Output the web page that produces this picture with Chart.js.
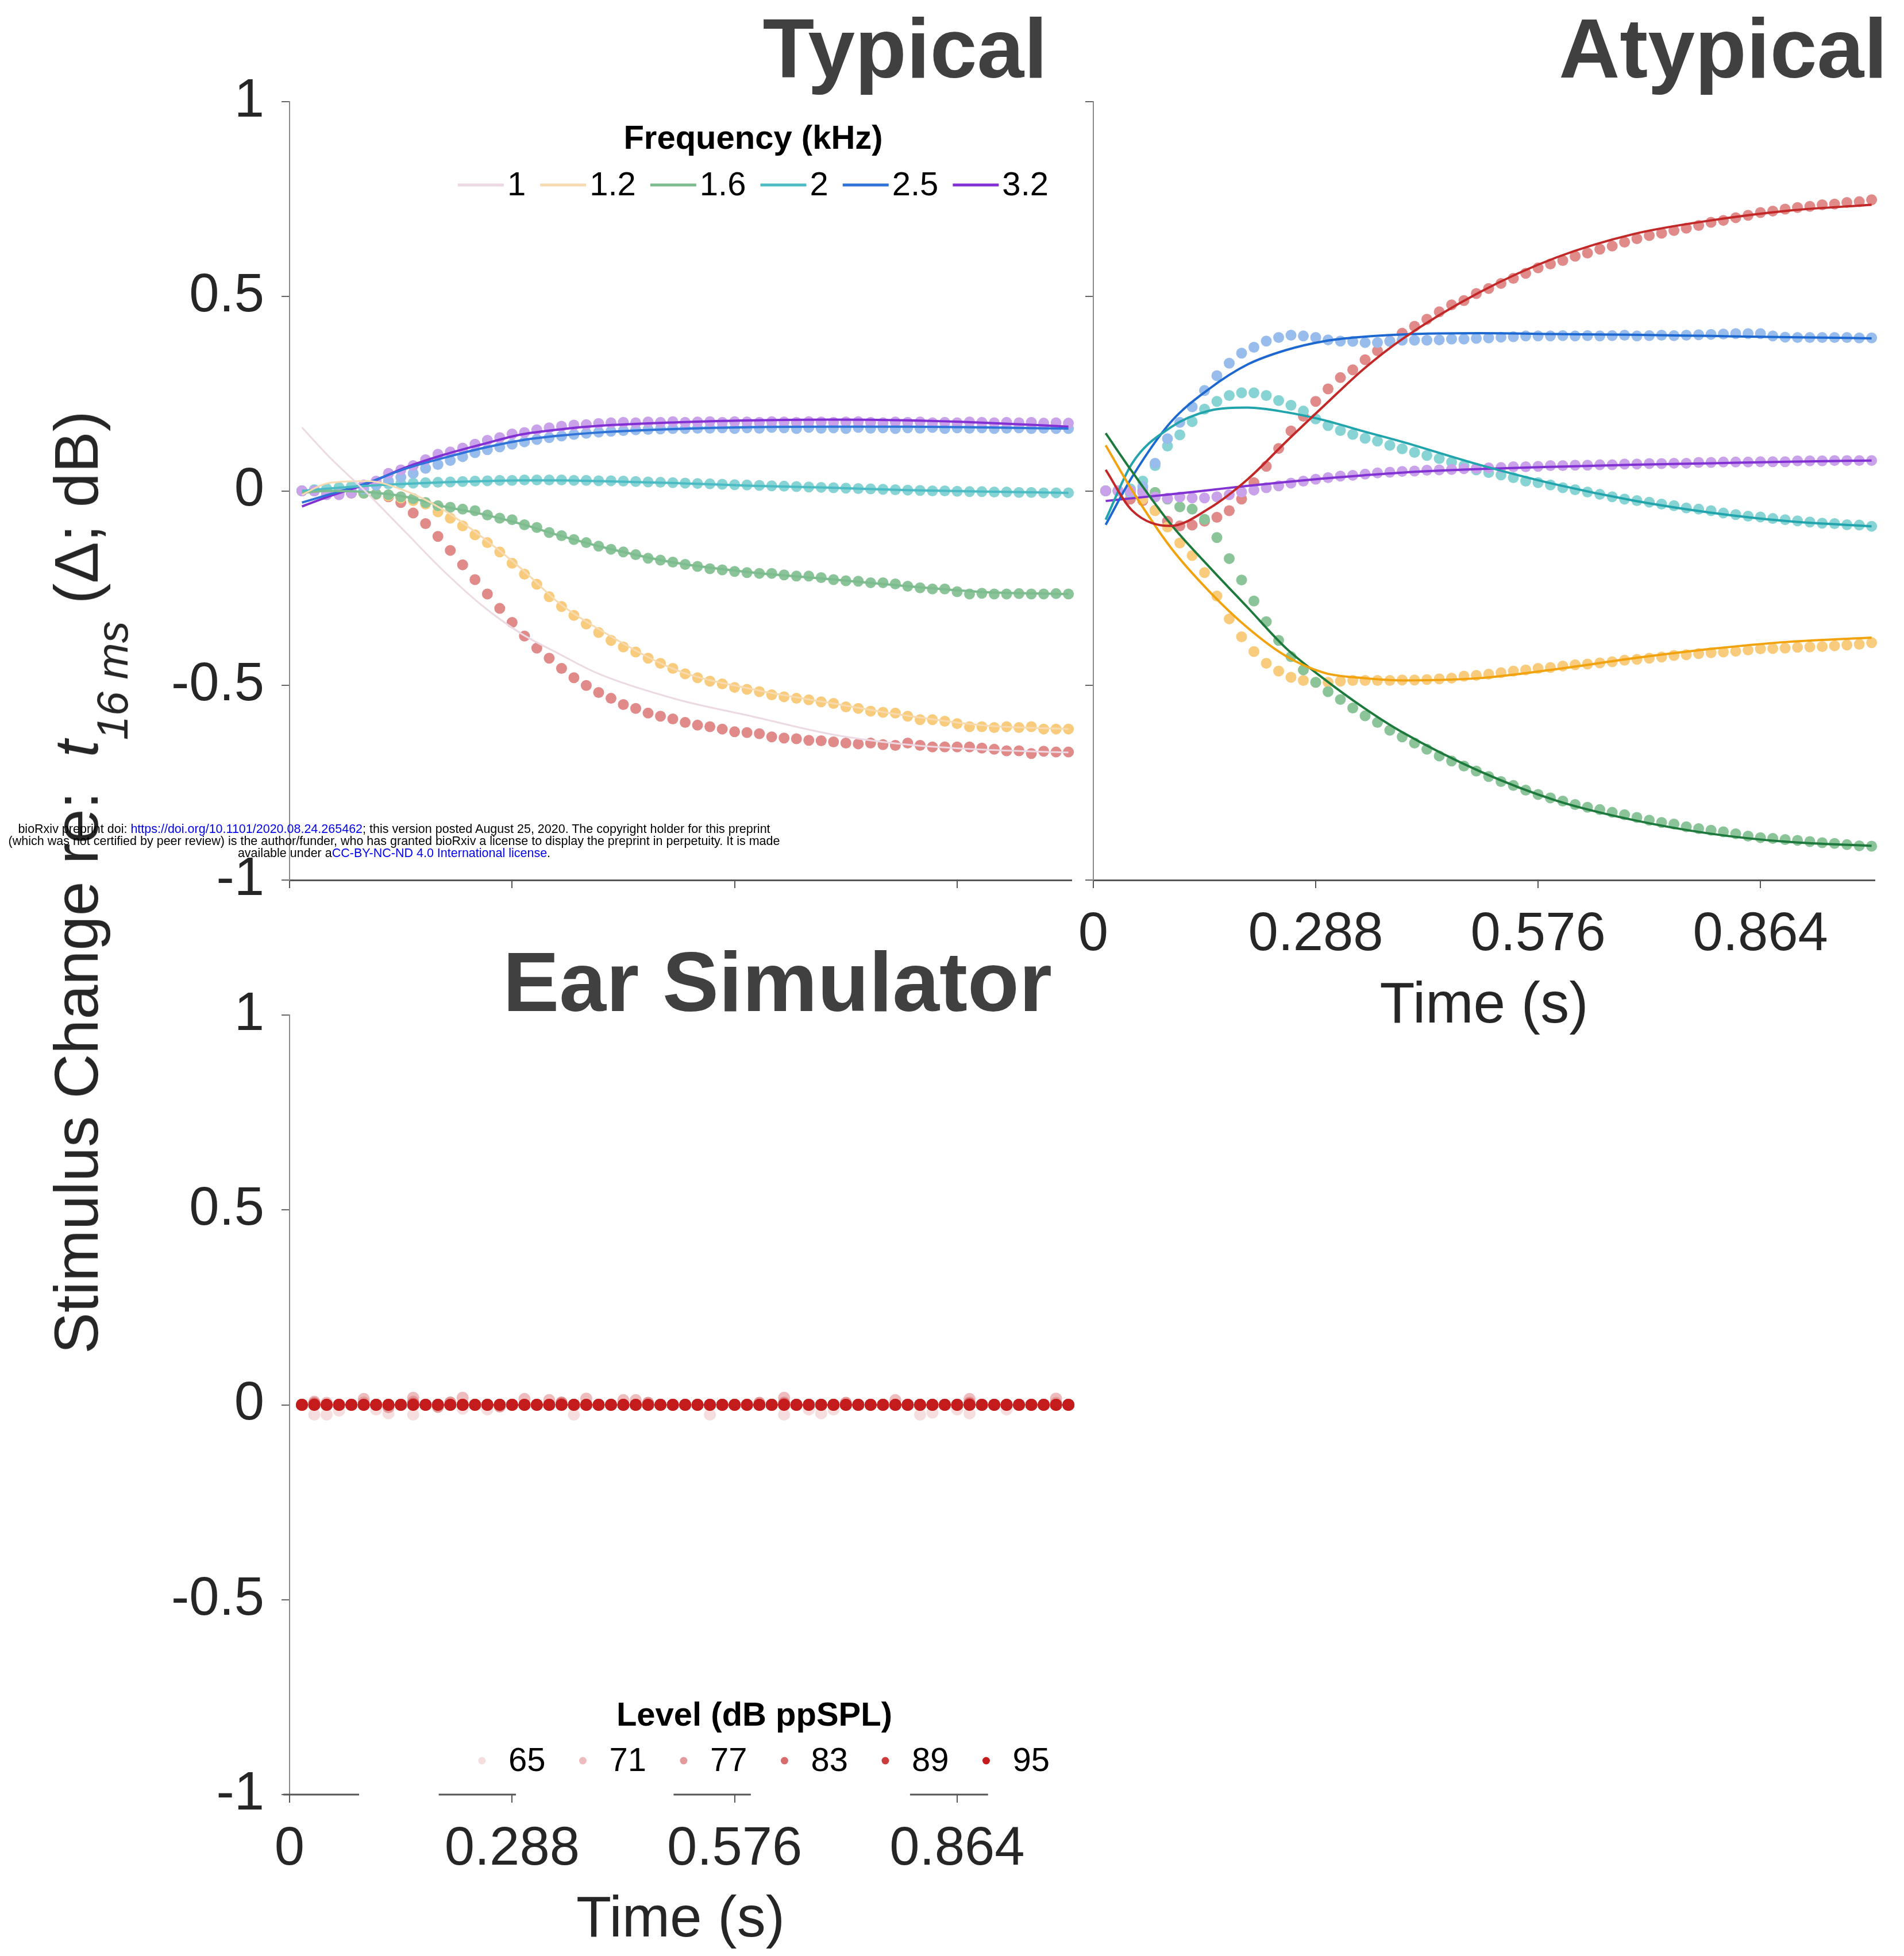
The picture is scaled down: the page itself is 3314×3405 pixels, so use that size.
<!DOCTYPE html>
<html>
<head>
<meta charset="utf-8">
<script src="https://cdn.jsdelivr.net/npm/chart.js@4.4.1/dist/chart.umd.min.js"></script>
<style>
html, body { margin: 0; padding: 0; background: #fff; }
#page { position: relative; width: 3314px; height: 3405px; overflow: hidden; background: #fff;
        font-family: 'Liberation Sans', Arial, sans-serif; }
canvas { position: absolute; }
.ptitle { position: absolute; font-weight: bold; font-size: 147px; line-height: 1; color: #404040; white-space: nowrap; }
#ytitle { position: absolute; left: 133px; top: 1536px; transform: translate(-50%, -50%) rotate(-90deg);
          font-size: 108px; line-height: 108px; height: 108px; white-space: nowrap; color: #262626; }
#ytitle .sub { font-size: 76px; position: relative; top: 52px; line-height: 0; }
#mark { position: absolute; left: 686px; top: 1433px; transform: translateX(-50%); font-size: 21.5px; line-height: 21px;
        text-align: center; white-space: nowrap; color: #000; }
#mark .lnk { color: #0000ee; }
</style>
</head>
<body>
<div id="page">
  <canvas id="typ"></canvas>
  <canvas id="aty"></canvas>
  <canvas id="ear"></canvas>
  <div class="ptitle" style="right:1491px; top:11px">Typical</div>
  <div class="ptitle" style="right:29px; top:11px">Atypical</div>
  <div class="ptitle" style="right:1483px; top:1636px">Ear Simulator</div>
  <div id="ytitle">Stimulus Change re:&nbsp; <i>t</i><span class="sub"><i>16 ms</i></span> (Δ; dB)</div>
  <div id="mark">bioRxiv preprint doi: <span class="lnk">https://doi.org/10.1101/2020.08.24.265462</span>; this version posted August 25, 2020. The copyright holder for this preprint<br>(which was not certified by peer review) is the author/funder, who has granted bioRxiv a license to display the preprint in perpetuity. It is made<br>available under a<span class="lnk">CC-BY-NC-ND 4.0 International license</span>.</div>
</div>
<script>
// ---- data ----
const times = [0.016, 0.032, 0.048, 0.064, 0.080, 0.096, 0.112, 0.128, 0.144, 0.160,
  0.176, 0.192, 0.208, 0.224, 0.240, 0.256, 0.272, 0.288, 0.304, 0.320,
  0.336, 0.352, 0.368, 0.384, 0.400, 0.416, 0.432, 0.448, 0.464, 0.480,
  0.496, 0.512, 0.528, 0.544, 0.560, 0.576, 0.592, 0.608, 0.624, 0.640,
  0.656, 0.672, 0.688, 0.704, 0.720, 0.736, 0.752, 0.768, 0.784, 0.800,
  0.816, 0.832, 0.848, 0.864, 0.880, 0.896, 0.912, 0.928, 0.944, 0.960,
  0.976, 0.992, 1.008];
const fitTimes = [0.016, 0.05, 0.1, 0.15, 0.2, 0.25, 0.3, 0.35, 0.4, 0.5, 0.6, 0.7, 0.8, 0.9, 1.008];
const xTickValues = [0, 0.288, 0.576, 0.864];
const yTickValues = [1, 0.5, 0, -0.5, -1];
const xMax = 1.012;

const freqLabels = ['1', '1.2', '1.6', '2', '2.5', '3.2'];
const levelLabels = ['65', '71', '77', '83', '89', '95'];

// Typical: measured points
const typDots1 = [0, 0, -0.004, -0.005, -0.006, -0.006, -0.008, -0.015, -0.03, -0.057,
  -0.084, -0.117, -0.153, -0.19, -0.228, -0.265, -0.302, -0.338, -0.373, -0.404,
  -0.43, -0.456, -0.48, -0.5, -0.518, -0.533, -0.549, -0.559, -0.571, -0.579,
  -0.586, -0.595, -0.602, -0.606, -0.612, -0.619, -0.621, -0.624, -0.632, -0.635,
  -0.637, -0.641, -0.642, -0.645, -0.648, -0.65, -0.648, -0.652, -0.654, -0.648,
  -0.654, -0.658, -0.658, -0.658, -0.658, -0.661, -0.664, -0.668, -0.668, -0.675,
  -0.669, -0.671, -0.671];
const typDots12 = [0, 0, 0, -0.002, -0.004, -0.006, -0.009, -0.013, -0.018, -0.025,
  -0.034, -0.054, -0.07, -0.09, -0.113, -0.133, -0.157, -0.186, -0.214, -0.24,
  -0.272, -0.297, -0.32, -0.342, -0.364, -0.384, -0.401, -0.414, -0.43, -0.443,
  -0.456, -0.47, -0.48, -0.489, -0.496, -0.505, -0.51, -0.516, -0.524, -0.529,
  -0.533, -0.537, -0.542, -0.546, -0.555, -0.559, -0.566, -0.569, -0.571, -0.579,
  -0.588, -0.588, -0.592, -0.598, -0.606, -0.606, -0.608, -0.606, -0.608, -0.606,
  -0.612, -0.612, -0.612];
const typDots16 = [0, 0, 0, -0.003, -0.005, -0.006, -0.008, -0.01, -0.015, -0.02,
  -0.03, -0.038, -0.042, -0.047, -0.051, -0.062, -0.07, -0.074, -0.087, -0.094,
  -0.107, -0.115, -0.125, -0.133, -0.142, -0.15, -0.157, -0.164, -0.173, -0.178,
  -0.183, -0.189, -0.194, -0.2, -0.203, -0.207, -0.21, -0.212, -0.212, -0.216,
  -0.219, -0.219, -0.223, -0.228, -0.231, -0.232, -0.236, -0.236, -0.239, -0.245,
  -0.249, -0.252, -0.252, -0.259, -0.265, -0.263, -0.265, -0.265, -0.264, -0.265,
  -0.265, -0.264, -0.265];
const typDots2 = [0, 0.003, 0.006, 0.009, 0.012, 0.014, 0.016, 0.018, 0.019, 0.02,
  0.021, 0.022, 0.023, 0.024, 0.025, 0.026, 0.027, 0.027, 0.028, 0.028,
  0.028, 0.028, 0.027, 0.027, 0.026, 0.026, 0.025, 0.024, 0.023, 0.022,
  0.021, 0.02, 0.019, 0.018, 0.017, 0.016, 0.015, 0.014, 0.013, 0.012,
  0.011, 0.01, 0.009, 0.008, 0.007, 0.006, 0.005, 0.004, 0.003, 0.002,
  0.001, 0, 0, -0.001, -0.002, -0.002, -0.003, -0.003, -0.004, -0.004,
  -0.005, -0.005, -0.005];
const typDots25 = [0, 0, -0.004, -0.005, 0, 0.005, 0.015, 0.025, 0.035, 0.045,
  0.058, 0.068, 0.078, 0.088, 0.098, 0.106, 0.113, 0.12, 0.126, 0.132,
  0.137, 0.141, 0.145, 0.148, 0.151, 0.153, 0.155, 0.157, 0.158, 0.159,
  0.16, 0.16, 0.161, 0.161, 0.162, 0.16, 0.162, 0.161, 0.163, 0.162,
  0.16, 0.163, 0.161, 0.162, 0.16, 0.163, 0.161, 0.162, 0.16, 0.162,
  0.161, 0.163, 0.16, 0.162, 0.161, 0.162, 0.16, 0.161, 0.162, 0.16,
  0.161, 0.16, 0.16];
const typDots32 = [0, 0, -0.01, -0.01, -0.005, 0.015, 0.025, 0.045, 0.054, 0.065,
  0.08, 0.094, 0.1, 0.11, 0.12, 0.13, 0.137, 0.146, 0.15, 0.157,
  0.162, 0.166, 0.169, 0.17, 0.173, 0.175, 0.176, 0.175, 0.177, 0.176,
  0.178, 0.176, 0.177, 0.178, 0.176, 0.178, 0.177, 0.176, 0.178, 0.177,
  0.176, 0.178, 0.177, 0.176, 0.177, 0.178, 0.176, 0.175, 0.177, 0.176,
  0.177, 0.175, 0.176, 0.175, 0.177, 0.176, 0.175, 0.176, 0.175, 0.176,
  0.174, 0.175, 0.174];

// Typical: fitted curves (at fitTimes)
const typFit1 = [0.163, 0.09, -0.005, -0.106, -0.207, -0.296, -0.367, -0.42, -0.47, -0.535, -0.58, -0.625, -0.652, -0.665, -0.672];
const typFit12 = [-0.01, 0.02, 0.025, 0.0, -0.05, -0.12, -0.2, -0.29, -0.355, -0.46, -0.51, -0.545, -0.578, -0.603, -0.612];
const typFit16 = [-0.005, 0, -0.003, -0.015, -0.04, -0.06, -0.085, -0.115, -0.142, -0.185, -0.21, -0.227, -0.245, -0.26, -0.265];
const typFit2 = [0.0, 0.006, 0.013, 0.018, 0.022, 0.025, 0.027, 0.027, 0.025, 0.02, 0.013, 0.008, 0.002, -0.002, -0.005];
const typFit25 = [-0.03, -0.01, 0.02, 0.057, 0.085, 0.11, 0.13, 0.142, 0.15, 0.159, 0.164, 0.165, 0.165, 0.163, 0.16];
const typFit32 = [-0.04, -0.015, 0.018, 0.06, 0.093, 0.12, 0.145, 0.158, 0.167, 0.176, 0.181, 0.183, 0.181, 0.175, 0.165];

// Atypical: measured points
const atyDots1 = [0, 0, -0.021, -0.025, -0.05, -0.078, -0.09, -0.088, -0.078, -0.068,
  -0.051, -0.021, 0.021, 0.063, 0.109, 0.154, 0.192, 0.23, 0.262, 0.291,
  0.311, 0.337, 0.36, 0.385, 0.405, 0.423, 0.441, 0.46, 0.478, 0.489,
  0.507, 0.52, 0.533, 0.546, 0.559, 0.573, 0.583, 0.592, 0.603, 0.611,
  0.621, 0.629, 0.639, 0.648, 0.656, 0.662, 0.669, 0.675, 0.682, 0.69,
  0.695, 0.702, 0.708, 0.715, 0.719, 0.724, 0.728, 0.731, 0.735, 0.737,
  0.741, 0.743, 0.748];
const atyDots12 = [0, 0, -0.007, -0.021, -0.051, -0.093, -0.134, -0.166, -0.21, -0.27,
  -0.329, -0.375, -0.413, -0.443, -0.463, -0.479, -0.487, -0.492, -0.492, -0.489,
  -0.487, -0.487, -0.487, -0.487, -0.486, -0.486, -0.485, -0.483, -0.481, -0.476,
  -0.474, -0.471, -0.467, -0.463, -0.46, -0.456, -0.454, -0.45, -0.447, -0.445,
  -0.442, -0.439, -0.435, -0.433, -0.43, -0.427, -0.423, -0.421, -0.418, -0.416,
  -0.414, -0.412, -0.409, -0.406, -0.405, -0.404, -0.402, -0.401, -0.4, -0.398,
  -0.396, -0.394, -0.39];
const atyDots16 = [0, 0, -0.005, 0, -0.004, -0.021, -0.041, -0.047, -0.073, -0.12,
  -0.174, -0.229, -0.283, -0.336, -0.384, -0.426, -0.46, -0.492, -0.516, -0.536,
  -0.558, -0.578, -0.595, -0.615, -0.632, -0.648, -0.664, -0.681, -0.694, -0.707,
  -0.72, -0.734, -0.747, -0.757, -0.769, -0.78, -0.789, -0.797, -0.806, -0.813,
  -0.819, -0.826, -0.832, -0.839, -0.846, -0.852, -0.856, -0.863, -0.868, -0.872,
  -0.876, -0.881, -0.887, -0.891, -0.893, -0.896, -0.898, -0.901, -0.904, -0.906,
  -0.909, -0.912, -0.913];
const atyDots2 = [0, 0, 0.005, 0.025, 0.065, 0.115, 0.144, 0.178, 0.21, 0.23,
  0.245, 0.252, 0.252, 0.245, 0.232, 0.22, 0.205, 0.185, 0.168, 0.155,
  0.145, 0.135, 0.128, 0.117, 0.108, 0.099, 0.091, 0.083, 0.074, 0.065,
  0.054, 0.047, 0.041, 0.034, 0.025, 0.021, 0.015, 0.008, 0.003, -0.003,
  -0.009, -0.015, -0.021, -0.025, -0.029, -0.034, -0.038, -0.044, -0.047, -0.051,
  -0.057, -0.061, -0.065, -0.067, -0.071, -0.074, -0.077, -0.08, -0.083, -0.084,
  -0.087, -0.088, -0.091];
const atyDots25 = [0, 0, -0.005, 0.011, 0.071, 0.134, 0.176, 0.216, 0.258, 0.296,
  0.328, 0.354, 0.369, 0.385, 0.394, 0.4, 0.398, 0.394, 0.388, 0.385,
  0.384, 0.381, 0.381, 0.384, 0.387, 0.387, 0.387, 0.388, 0.39, 0.39,
  0.392, 0.393, 0.395, 0.396, 0.398, 0.398, 0.398, 0.399, 0.398, 0.399,
  0.398, 0.399, 0.4, 0.398, 0.399, 0.4, 0.399, 0.4, 0.401, 0.402,
  0.403, 0.404, 0.404, 0.404, 0.398, 0.395, 0.394, 0.394, 0.394, 0.394,
  0.394, 0.393, 0.393];
const atyDots32 = [0, 0, 0, -0.004, -0.016, -0.019, -0.016, -0.018, -0.018, -0.015,
  -0.01, -0.003, 0.002, 0.008, 0.013, 0.02, 0.025, 0.03, 0.034, 0.038,
  0.04, 0.043, 0.046, 0.048, 0.05, 0.051, 0.053, 0.054, 0.055, 0.057,
  0.058, 0.059, 0.06, 0.062, 0.062, 0.063, 0.065, 0.065, 0.066, 0.066,
  0.067, 0.067, 0.069, 0.069, 0.07, 0.07, 0.071, 0.071, 0.073, 0.073,
  0.074, 0.074, 0.074, 0.075, 0.075, 0.075, 0.077, 0.077, 0.077, 0.078,
  0.078, 0.078, 0.078];

// Atypical: fitted curves (at fitTimes)
const atyFit1 = [0.054, -0.05, -0.09, -0.045, 0.03, 0.127, 0.221, 0.313, 0.39, 0.51, 0.6, 0.66, 0.695, 0.72, 0.735];
const atyFit12 = [0.117, 0.002, -0.145, -0.258, -0.352, -0.425, -0.468, -0.481, -0.487, -0.481, -0.458, -0.43, -0.406, -0.388, -0.377];
const atyFit16 = [0.148, 0.05, -0.085, -0.195, -0.3, -0.405, -0.485, -0.557, -0.62, -0.72, -0.796, -0.846, -0.881, -0.902, -0.912];
const atyFit2 = [-0.074, 0.07, 0.163, 0.206, 0.214, 0.202, 0.181, 0.153, 0.126, 0.067, 0.016, -0.025, -0.056, -0.078, -0.091];
const atyFit25 = [-0.087, 0.035, 0.176, 0.262, 0.325, 0.362, 0.385, 0.396, 0.402, 0.405, 0.403, 0.401, 0.398, 0.395, 0.392];
const atyFit32 = [-0.026, -0.019, -0.009, 0.002, 0.013, 0.023, 0.032, 0.04, 0.047, 0.056, 0.062, 0.067, 0.071, 0.075, 0.078];

// Ear simulator: measured points per level
const level65 = [0, -0.025, -0.025, -0.015, 0, 0, -0.012, -0.022, 0, -0.025,
  0, 0, 0, -0.01, 0, -0.012, 0, 0, 0, 0,
  0, 0, -0.025, 0, 0, 0, 0, 0, 0, 0,
  0, 0, 0, -0.025, 0, 0, 0, 0, 0, -0.025,
  0, -0.012, -0.022, -0.012, 0, 0, 0, 0, 0, 0,
  -0.025, -0.02, 0, -0.012, -0.022, 0, 0, -0.012, 0, 0,
  0, 0, 0];
const level71 = [0, 0.008, 0.005, 0, 0, 0.015, 0, 0, 0, 0.018,
  0, 0, 0, 0.018, 0, 0, 0, 0, 0.015, 0,
  0.012, 0, 0, 0.016, 0, 0, 0.012, 0.012, 0, 0,
  0, 0, 0, 0, 0, 0, 0, 0, 0, 0.018,
  0, 0, 0, 0, 0, 0, 0, 0, 0.012, 0,
  0, 0, 0, 0, 0.015, 0, 0, 0, 0, 0,
  0, 0.016, 0];
const level77 = [0, 0.005, 0, 0, 0, 0.006, 0, -0.006, 0, 0.008,
  0, -0.005, 0.006, 0, 0, 0, -0.004, 0, 0, 0,
  0, 0.006, 0, 0, 0, 0, 0, 0, 0.005, 0,
  0, 0, 0, 0, 0, 0, 0, 0.005, 0, 0.006,
  0, 0, 0, 0, 0.005, 0, 0, 0, 0, 0,
  0, 0, 0, 0, 0.006, 0, 0, 0, 0, 0,
  0, 0.005, 0];
const level83 = [0, 0.003, 0, 0, 0, 0, 0, 0, 0, 0.003,
  0, 0, 0, 0, 0, 0, 0, 0, 0, 0,
  0, 0.003, 0, 0, 0, 0, 0, 0, 0, 0,
  0, 0, 0, 0, 0, 0, 0, 0, 0, 0.003,
  0, 0, 0, 0, 0, 0, 0, 0, 0, 0,
  0, 0, 0, 0, 0.003, 0, 0, 0, 0, 0,
  0, 0, 0];
const level89 = [0, 0, 0, 0, 0, 0, 0, 0, 0, 0,
  0, 0, 0, 0, 0, 0, 0, 0, 0, 0,
  0, 0, 0, 0, 0, 0, 0, 0, 0, 0,
  0, 0, 0, 0, 0, 0, 0, 0, 0, 0,
  0, 0, 0, 0, 0, 0, 0, 0, 0, 0,
  0, 0, 0, 0, 0, 0, 0, 0, 0, 0,
  0, 0, 0];
const level95 = [0, 0, 0, 0, 0, 0, 0, 0, 0, 0,
  0, 0, 0, 0, 0, 0, 0, 0, 0, 0,
  0, 0, 0, 0, 0, 0, 0, 0, 0, 0,
  0, 0, 0, 0, 0, 0, 0, 0, 0, 0,
  0, 0, 0, 0, 0, 0, 0, 0, 0, 0,
  0, 0, 0, 0, 0, 0, 0, 0, 0, 0,
  0, 0, 0];

// broken x axis of the ear simulator panel (seconds)
const earAxisSegments = [[-0.008, 0.09], [0.193, 0.293], [0.497, 0.597], [0.803, 0.904]];

// ---- colours ----
const typLineColors = ['#ecd9e3', '#f7dab0', '#7cbc8e', '#4cbcc4', '#2f72d8', '#8230d4'];
const atyLineColors = ['#c22828', '#f2a20c', '#1e7a3c', '#22a4ac', '#1c68d0', '#8232d2'];
const dotColors = ['#e08a8a', '#f8cc7c', '#8cc49a', '#88d4d4', '#98bdec', '#c9a2ea'];
const levelColors = ['#f6dede', '#eebcbc', '#e29a9a', '#d86c6c', '#cc3c3c', '#c41c1c'];

const FAM = "'Liberation Sans', Arial, sans-serif";
Chart.defaults.font.family = FAM;
Chart.defaults.color = '#262626';

const pts = (xs, ys) => xs.map((x, i) => ({ x: x, y: ys[i] }));

function dotSet(ys, color, order, r) {
  return { data: pts(times, ys), showLine: false, pointRadius: r || 9.5, pointBorderWidth: 0,
    pointBackgroundColor: color, backgroundColor: color, borderColor: color, order: order, clip: false };
}
function fitSet(ys, color, width) {
  return { data: pts(fitTimes, ys), showLine: true, pointRadius: 0, borderColor: color, borderWidth: width || 4,
    cubicInterpolationMode: 'monotone', fill: false, order: 0, clip: false };
}

function xScale(o) {
  return {
    type: 'linear', min: 0, max: xMax,
    afterBuildTicks: s => { s.ticks = xTickValues.map(v => ({ value: v })); },
    afterFit: s => { s.height = o.height; },
    border: { display: o.border !== false, color: '#555', width: 3 },
    grid: { display: true, drawOnChartArea: false, drawTicks: true, tickLength: 14, color: '#555', lineWidth: 2 },
    ticks: { display: o.labels, padding: 26, font: { size: 94 }, color: '#262626', maxRotation: 0, autoSkip: false,
      callback: v => String(v) },
    title: { display: o.labels, text: 'Time (s)', font: { size: 100, lineHeight: 1.2 }, color: '#262626',
      padding: { top: 0, bottom: o.titlePad || 0 } }
  };
}
function yScale(o) {
  return {
    type: 'linear', min: -1, max: 1,
    afterBuildTicks: s => { s.ticks = yTickValues.map(v => ({ value: v })); },
    afterFit: s => { s.width = o.width; },
    border: { display: true, color: '#8a8a8a', width: 2 },
    grid: { display: true, drawOnChartArea: false, drawTicks: true, tickLength: 14, color: '#666', lineWidth: 2 },
    ticks: { display: o.labels, padding: 30, font: { size: 94 }, color: '#262626', callback: v => String(v) }
  };
}

// legend drawn inside the plot area
const panelLegend = {
  id: 'panelLegend',
  afterDatasetsDraw(chart, args, o) {
    if (!o || !o.items) return;
    const ctx = chart.ctx, a = chart.chartArea;
    const icon = 80, gap1 = 6, gap2 = 25;
    ctx.save();
    ctx.font = '58px ' + FAM;
    const widths = o.items.map(it => ctx.measureText(it.label).width);
    let total = 0;
    widths.forEach((w, i) => { total += icon + gap1 + w + (i < widths.length - 1 ? gap2 : 0); });
    let x = a.right - o.rightGap - total;
    const rowY = o.fromBottom ? a.bottom - o.rowY : a.top + o.rowY;
    const titleY = o.fromBottom ? a.bottom - o.titleY : a.top + o.titleY;
    ctx.fillStyle = '#000';
    ctx.textAlign = 'center';
    ctx.textBaseline = 'middle';
    ctx.font = 'bold 58px ' + FAM;
    ctx.fillText(o.title, x + total / 2, titleY);
    ctx.font = '58px ' + FAM;
    ctx.textAlign = 'left';
    o.items.forEach((it, i) => {
      if (it.kind === 'line') {
        ctx.strokeStyle = it.color; ctx.lineWidth = 5;
        ctx.beginPath(); ctx.moveTo(x, rowY); ctx.lineTo(x + icon, rowY); ctx.stroke();
      } else {
        ctx.fillStyle = it.color;
        ctx.beginPath(); ctx.arc(x + icon / 2, rowY, 6.5, 0, Math.PI * 2); ctx.fill();
      }
      ctx.fillStyle = '#000';
      ctx.fillText(it.label, x + icon + gap1, rowY + 2);
      x += icon + gap1 + widths[i] + gap2;
    });
    ctx.restore();
  }
};

// broken x axis line
const axisSegments = {
  id: 'axisSegments',
  afterDraw(chart, args, o) {
    if (!o || !o.segments) return;
    const ctx = chart.ctx, xs = chart.scales.x, y = chart.chartArea.bottom;
    ctx.save();
    ctx.strokeStyle = '#555'; ctx.lineWidth = 3;
    o.segments.forEach(s => {
      ctx.beginPath(); ctx.moveTo(xs.getPixelForValue(s[0]), y); ctx.lineTo(xs.getPixelForValue(s[1]), y); ctx.stroke();
    });
    ctx.restore();
  }
};

function setup(id, left, top, w, h) {
  const c = document.getElementById(id);
  c.width = w; c.height = h;
  c.style.left = left + 'px'; c.style.top = top + 'px';
  c.style.width = w + 'px'; c.style.height = h + 'px';
  return c.getContext('2d');
}

const baseOpts = { responsive: false, animation: false, devicePixelRatio: 1, events: [] };

// ---- Typical ----
const typDots = [typDots1, typDots12, typDots16, typDots2, typDots25, typDots32];
const typFits = [typFit1, typFit12, typFit16, typFit2, typFit25, typFit32];
new Chart(setup('typ', 0, 0, 1880, 1622), {
  type: 'line',
  data: { datasets: [
    ...typDots.map((d, i) => dotSet(d, dotColors[i], 10 - i)),
    ...typFits.map((d, i) => fitSet(d, typLineColors[i], i < 2 ? 3 : 4))
  ] },
  options: { ...baseOpts,
    layout: { padding: { left: 0, top: 177, right: 15, bottom: 0 } },
    scales: { x: xScale({ height: 90, labels: false }), y: yScale({ width: 504, labels: true }) },
    plugins: { legend: { display: false }, tooltip: { enabled: false },
      panelLegend: { title: 'Frequency (kHz)', rowY: 145, titleY: 66, rightGap: 40,
        items: freqLabels.map((l, i) => ({ label: l, color: typLineColors[i], kind: 'line' })) } }
  },
  plugins: [panelLegend]
});

// ---- Atypical ----
const atyDots = [atyDots1, atyDots12, atyDots16, atyDots2, atyDots25, atyDots32];
const atyFits = [atyFit1, atyFit12, atyFit16, atyFit2, atyFit25, atyFit32];
new Chart(setup('aty', 1840, 0, 1474, 1850), {
  type: 'line',
  data: { datasets: [
    ...atyDots.map((d, i) => dotSet(d, dotColors[i], 10 - i)),
    ...atyFits.map((d, i) => fitSet(d, atyLineColors[i], 4))
  ] },
  options: { ...baseOpts,
    layout: { padding: { left: 0, top: 177, right: 51, bottom: 0 } },
    scales: { x: xScale({ height: 318, labels: true, titlePad: 38 }), y: yScale({ width: 63, labels: false }) },
    plugins: { legend: { display: false }, tooltip: { enabled: false } }
  }
});

// ---- Ear simulator ----
const levels = [level65, level71, level77, level83, level89, level95];
new Chart(setup('ear', 0, 1650, 1880, 1755), {
  type: 'line',
  data: { datasets: levels.map((d, i) => dotSet(d, levelColors[i], 10 - i, 10.5)) },
  options: { ...baseOpts,
    layout: { padding: { left: 0, top: 117, right: 15, bottom: 0 } },
    scales: { x: xScale({ height: 281, labels: true, titlePad: 2, border: false }), y: yScale({ width: 504, labels: true }) },
    plugins: { legend: { display: false }, tooltip: { enabled: false },
      panelLegend: { title: 'Level (dB ppSPL)', rowY: 59, titleY: 136, rightGap: 38, fromBottom: true,
        items: levelLabels.map((l, i) => ({ label: l, color: levelColors[i], kind: 'dot' })) },
      axisSegments: { segments: earAxisSegments } }
  },
  plugins: [panelLegend, axisSegments]
});
</script>
</body>
</html>
